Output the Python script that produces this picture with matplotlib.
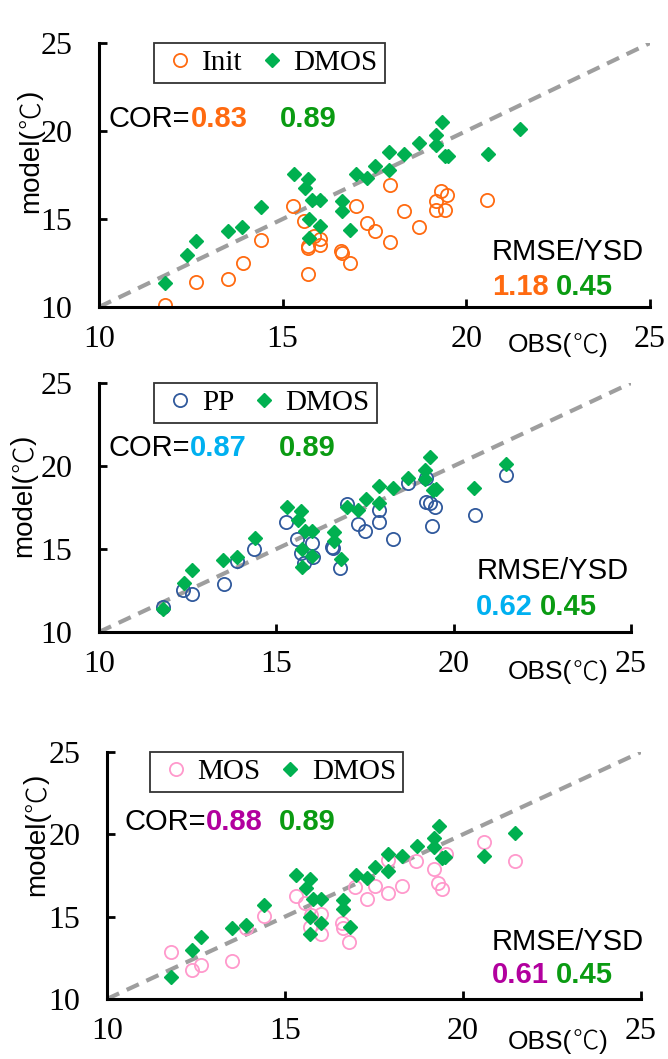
import matplotlib.pyplot as plt

# observed / forecast temperatures (deg C)
obs_dmos = [11.80, 12.40, 12.63, 13.51, 13.90, 14.41, 15.30, 15.70, 15.60, 15.80, 16.01,
            15.71, 16.01, 15.71, 16.62, 16.62, 16.82, 16.99, 17.30, 17.52, 17.90, 17.90,
            18.29, 18.70, 19.18, 19.18, 19.33, 19.41, 19.50, 20.58, 21.47]
dmos = [11.36, 12.96, 13.76, 14.34, 14.52, 15.69, 17.55, 17.28, 16.75, 16.06, 16.06,
        14.99, 14.60, 13.94, 16.01, 15.47, 14.40, 17.55, 17.33, 18.01, 18.80, 17.80,
        18.69, 19.30, 19.76, 19.20, 20.53, 18.57, 18.60, 18.69, 20.10]

obs_init = [11.80, 12.63, 13.50, 13.91, 14.42, 15.29, 15.58, 15.70, 15.68, 15.86, 16.02,
            16.02, 15.70, 16.60, 16.62, 16.83, 16.99, 17.30, 17.51, 17.91, 17.91, 18.29,
            18.70, 19.17, 19.17, 19.31, 19.41, 19.48, 20.57]
init = [10.13, 11.42, 11.61, 12.52, 13.79, 15.72, 14.89, 13.45, 13.37, 14.02, 13.50,
        13.88, 11.86, 13.18, 13.07, 12.52, 15.72, 14.79, 14.32, 16.91, 13.69, 15.44,
        14.55, 16.02, 15.53, 16.57, 15.53, 16.38, 16.06]

obs_pp = [11.81, 12.37, 12.62, 13.52, 13.88, 14.38, 15.27, 15.58, 15.69, 15.79, 16.01,
          16.03, 16.58, 16.60, 16.80, 16.99, 17.30, 17.50, 17.90, 17.90, 18.30, 18.70,
          19.21, 19.23, 19.33, 19.48, 19.40, 20.60, 21.47]
pp = [11.51, 12.52, 12.28, 12.88, 14.29, 15.00, 16.65, 15.60, 14.78, 14.17, 15.34,
      14.54, 15.10, 15.04, 13.87, 17.72, 16.49, 16.09, 17.36, 16.65, 15.60, 18.97,
      17.86, 19.27, 17.76, 17.56, 16.39, 17.06, 19.48]

obs_mos = [11.80, 12.38, 12.63, 13.52, 13.90, 14.40, 15.32, 15.56, 15.73, 15.71, 16.01,
           16.01, 16.61, 16.63, 16.79, 16.96, 17.29, 17.53, 17.88, 17.88, 18.28, 18.69,
           19.18, 19.31, 19.41, 19.51, 20.58, 21.46]
mos = [12.88, 11.77, 12.08, 12.28, 14.29, 15.06, 16.27, 15.81, 15.10, 14.40, 15.16,
       13.95, 14.60, 14.29, 13.45, 16.81, 16.05, 16.87, 18.43, 16.45, 16.85, 18.39,
       17.92, 17.06, 16.65, 18.83, 19.54, 18.39]

panels = [
    dict(name='Init', x=obs_init, y=init, mc='#FF6A10', tc='#FF6A10', cor='0.83', rmse='1.18',
         rect=[0.1482, 0.7101, 0.8249, 0.2493], cor_xy=(0.017, 0.713), cor_v=(0.166, 0.328),
         rm_xy=(0.713, 0.208, 0.076), rm_v2=0.829, leg=(0.100, 1.0),
         ylab=(-0.123, 0.356), obs=(0.742, -0.144)),
    dict(name='PP', x=obs_pp, y=pp, mc='#30599C', tc='#00B0F0', cor='0.87', rmse='0.62',
         rect=[0.1482, 0.4032, 0.7964, 0.2351], cor_xy=(0.017, 0.740), cor_v=(0.171, 0.339),
         rm_xy=(0.709, 0.245, 0.100), rm_v2=0.829, leg=(0.104, 1.0),
         ylab=(-0.141, 0.30), obs=(0.769, -0.161)),
    dict(name='MOS', x=obs_mos, y=mos, mc='#FF99CC', tc='#B2009E', cor='0.88', rmse='0.61',
         rect=[0.1602, 0.0567, 0.7994, 0.2332], cor_xy=(0.033, 0.717), cor_v=(0.185, 0.322),
         rm_xy=(0.721, 0.231, 0.097), rm_v2=0.841, leg=(0.080, 1.0),
         ylab=(-0.131, 0.415), obs=(0.751, -0.174)),
]

green_txt = '#0A9B12'
sans = ['Liberation Sans', 'Noto Sans CJK JP']
serif = ['Liberation Serif', 'Noto Sans CJK JP']
cjk = ['Noto Sans CJK JP']


def unit_label(ax, x, y, head, size, vertical=False):
    # "head(" in sans, the degree sign from the CJK font, then ")"
    kw = dict(fontsize=size)
    if vertical:
        t1 = ax.text(x, y, head + '(', transform=ax.transAxes, rotation=90,
                     ha='center', va='bottom', family=sans, **kw)
        t2 = ax.annotate('℃', xy=(0.5, 1), xycoords=t1, rotation=90, ha='center',
                         va='bottom', family=cjk, fontweight='light', **kw)
        ax.annotate(')', xy=(0.5, 1), xycoords=t2, rotation=90, ha='center',
                    va='bottom', family=sans, **kw)
    else:
        t1 = ax.text(x, y, head + '(', transform=ax.transAxes, ha='left', va='center',
                     family=sans, **kw)
        t2 = ax.annotate('℃', xy=(1, 0.5), xycoords=t1, ha='left', va='center',
                         family=cjk, fontweight='light', **kw)
        ax.annotate(')', xy=(1, 0.5), xycoords=t2, ha='left', va='center',
                    family=sans, **kw)


fig = plt.figure(figsize=(6.68, 10.59), dpi=100)

for p in panels:
    ax = fig.add_axes(p['rect'])
    ax.plot([10, 25], [10, 25], color='#9E9E9E', lw=3, dashes=(3.2, 2), zorder=1)
    ax.plot(p['x'], p['y'], 'o', mfc='none', mec=p['mc'], mew=1.3, ms=9.5, label=p['name'], zorder=2)
    ax.plot(obs_dmos, dmos, 'D', color='#00B050', ms=7.5, label='DMOS', zorder=3)

    ax.set_xlim(10, 25)
    ax.set_ylim(10, 25)
    ax.set_xticks([10, 15, 20, 25])
    ax.set_yticks([10, 15, 20, 25])
    for s in ['top', 'right']:
        ax.spines[s].set_visible(False)
    for s in ['left', 'bottom']:
        ax.spines[s].set_linewidth(2.2)
    ax.tick_params(axis='both', direction='in', length=5.5, width=2, labelsize=23)
    ax.tick_params(axis='x', pad=13)
    ax.tick_params(axis='y', pad=19)
    for lab in ax.get_xticklabels() + ax.get_yticklabels():
        lab.set_family(serif)

    leg = ax.legend(loc='upper left', bbox_to_anchor=p['leg'], ncol=2, frameon=True,
                    fancybox=False, edgecolor='black', borderaxespad=0, borderpad=0.24,
                    handlelength=1.3, handletextpad=0.1, columnspacing=0.35,
                    prop={'family': serif, 'size': 21})
    leg.get_frame().set_linewidth(1.3)

    cx, cy = p['cor_xy']
    ax.text(cx, cy, 'COR=', transform=ax.transAxes, ha='left', va='center',
            fontsize=21, family=sans)
    ax.text(p['cor_v'][0], cy, p['cor'], transform=ax.transAxes, ha='left', va='center',
            fontsize=21, family=sans, fontweight='bold', color=p['tc'])
    ax.text(p['cor_v'][1], cy, '0.89', transform=ax.transAxes, ha='left', va='center',
            fontsize=21, family=sans, fontweight='bold', color=green_txt)

    rx, ry1, ry2 = p['rm_xy']
    ax.text(rx, ry1, 'RMSE/YSD', transform=ax.transAxes, ha='left', va='center',
            fontsize=21, family=sans)
    ax.text(rx, ry2, p['rmse'], transform=ax.transAxes, ha='left', va='center',
            fontsize=21, family=sans, fontweight='bold', color=p['tc'])
    ax.text(p['rm_v2'], ry2, '0.45', transform=ax.transAxes, ha='left', va='center',
            fontsize=21, family=sans, fontweight='bold', color=green_txt)

    unit_label(ax, p['ylab'][0], p['ylab'][1], 'model', 20, vertical=True)
    unit_label(ax, p['obs'][0], p['obs'][1], 'OBS', 19)

fig.savefig('out.png', dpi=100)
